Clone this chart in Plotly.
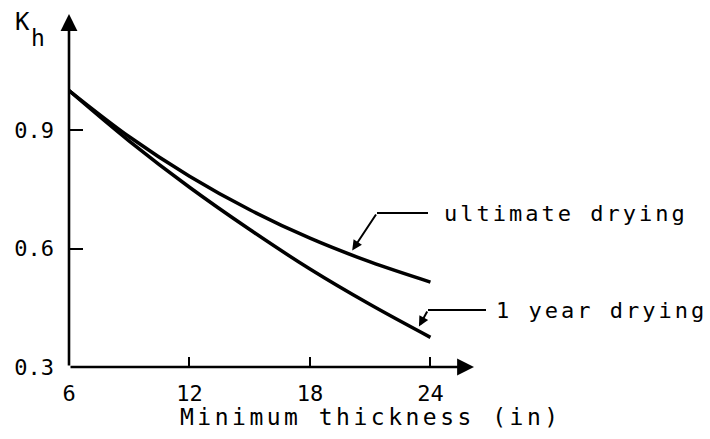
import plotly.graph_objects as go

# Data
thickness = [6, 9, 12, 15, 18, 21, 24]
ultimate_drying = [1.0, 0.883, 0.783, 0.698, 0.626, 0.566, 0.515]
one_year_drying = [1.0, 0.872, 0.755, 0.648, 0.548, 0.458, 0.375]
x_ticks = [6, 12, 18, 24]
x_tick_labels = ["6", "12", "18", "24"]
y_ticks = [0.3, 0.6, 0.9]
y_tick_labels = ["0.3", "0.6", "0.9"]

W, H = 710, 439
L, B = 69, 72
FONT = "DejaVu Sans Mono"

# pixel -> data / paper helpers (layout only)
XPX = 20.08
YPX = 395.0
def dx(px):
    return 6 + (px - L) / XPX
def dy(py):
    return 0.3 + (H - B - py) / YPX
def px_(px):
    return (px - L) / (W - L)
def py_(py):
    return (H - B - py) / (H - B)

fig = go.Figure()
for ys in (ultimate_drying, one_year_drying):
    fig.add_trace(go.Scatter(x=thickness, y=ys, mode="lines",
                             line=dict(color="black", width=3.5, shape="spline", smoothing=1.0),
                             showlegend=False, hoverinfo="skip"))

def interp(xv, xs, ys):
    for i in range(len(xs) - 1):
        if xs[i] <= xv <= xs[i + 1]:
            t = (xv - xs[i]) / (xs[i + 1] - xs[i])
            return ys[i] + t * (ys[i + 1] - ys[i])
    return ys[-1]

ann = []
# axes with arrows
ann.append(dict(x=dx(474), y=0.3, ax=6, ay=0.3, xref="x", yref="y", axref="x", ayref="y",
                showarrow=True, arrowhead=2, arrowsize=1.3, arrowwidth=2.6, arrowcolor="black", text=""))
ann.append(dict(x=6, y=dy(14), ax=6, ay=0.3, xref="x", yref="y", axref="x", ayref="y",
                showarrow=True, arrowhead=2, arrowsize=1.3, arrowwidth=2.6, arrowcolor="black", text=""))

# leaders
tip_u_x = 20.05
tip_u_y = interp(tip_u_x, thickness, ultimate_drying) + 0.006
ann.append(dict(x=tip_u_x, y=tip_u_y, ax=dx(377), ay=dy(213), xref="x", yref="y", axref="x", ayref="y",
                showarrow=True, arrowhead=2, arrowsize=1.0, arrowwidth=2, arrowcolor="black", text="", standoff=2))
tip_y_x = 23.38
tip_y_y = interp(tip_y_x, thickness, one_year_drying) + 0.006
ann.append(dict(x=tip_y_x, y=tip_y_y, ax=dx(428), ay=dy(310), xref="x", yref="y", axref="x", ayref="y",
                showarrow=True, arrowhead=2, arrowsize=1.0, arrowwidth=2, arrowcolor="black", text="", standoff=2))

shapes = [
    dict(type="line", x0=dx(377), x1=dx(428), y0=dy(213), y1=dy(213), xref="x", yref="y",
         line=dict(color="black", width=2)),
    dict(type="line", x0=dx(428), x1=dx(486), y0=dy(310), y1=dy(310), xref="x", yref="y",
         line=dict(color="black", width=2)),
]

sp = '<span style="letter-spacing:3px">%s</span>'
sp2 = '<span style="letter-spacing:3.5px">%s</span>'
ann.append(dict(x=dx(442), y=dy(213), xref="x", yref="y", xanchor="left", yanchor="middle",
                text=sp % "ultimate drying", showarrow=False,
                font=dict(family=FONT, size=22, color="black")))
ann.append(dict(x=dx(494), y=dy(310), xref="x", yref="y", xanchor="left", yanchor="middle",
                text=sp % "1 year drying", showarrow=False,
                font=dict(family=FONT, size=22, color="black")))
# x-axis title
ann.append(dict(x=px_(178), y=py_(417), xref="paper", yref="paper", xanchor="left", yanchor="middle",
                text=sp2 % "Minimum thickness (in)", showarrow=False,
                font=dict(family=FONT, size=23, color="black")))
# y-axis label: K with subscript h
ann.append(dict(x=px_(13), y=py_(22), xref="paper", yref="paper",
                xanchor="left", yanchor="middle", text="K", showarrow=False,
                font=dict(family=FONT, size=24, color="black")))
ann.append(dict(x=px_(29), y=py_(38), xref="paper", yref="paper",
                xanchor="left", yanchor="middle", text="h", showarrow=False,
                font=dict(family=FONT, size=23, color="black")))

fig.update_layout(
    width=W, height=H,
    margin=dict(l=L, r=0, t=0, b=B),
    paper_bgcolor="white", plot_bgcolor="white",
    annotations=ann, shapes=shapes,
    xaxis=dict(range=[6, dx(W)], showgrid=False, zeroline=False, showline=False,
               tickvals=x_ticks, ticktext=x_tick_labels, ticks="inside", ticklen=10,
               tickwidth=2, tickcolor="black", ticklabelstandoff=11,
               tickfont=dict(family=FONT, size=22, color="black")),
    yaxis=dict(range=[0.3, dy(0)], showgrid=False, zeroline=False, showline=False,
               tickvals=y_ticks, ticktext=y_tick_labels, ticks="inside", ticklen=14,
               tickwidth=2, tickcolor="black", ticklabelstandoff=14,
               tickfont=dict(family=FONT, size=22, color="black")),
)

fig.write_html("out.html")
